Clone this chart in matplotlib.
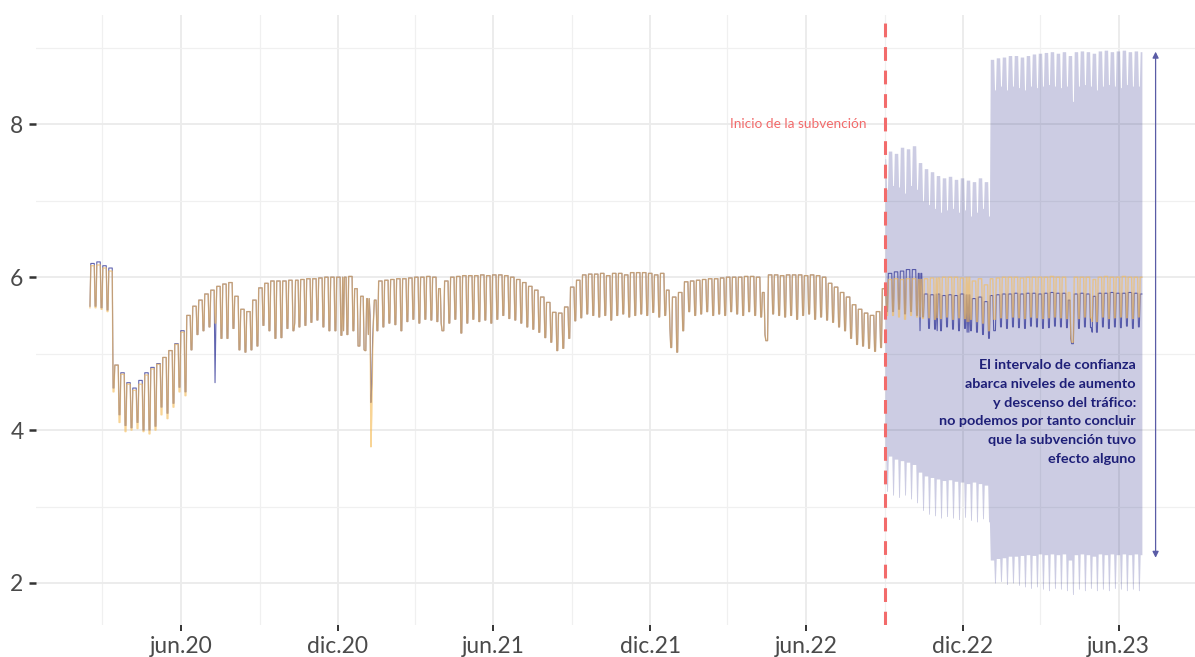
import numpy as np
import pandas as pd
import matplotlib
matplotlib.use("Agg")
import matplotlib.pyplot as plt
from matplotlib.ticker import FixedLocator, NullFormatter

plt.rcParams["font.family"] = ["Lato", "DejaVu Sans"]

# ---- daily traffic index, stored as weekly levels (Mon-Fri level, Sat/Sun level) ----
first_day = pd.Timestamp("2020-02-16")
first_monday = pd.Timestamp("2020-02-17")
last_day = pd.Timestamp("2023-06-28")
subsidy_start = pd.Timestamp("2022-09-01")

obs_weekday = [
    6.18, 6.20, 6.15, 6.12,
    4.85, 4.75, 4.62, 4.55, 4.65, 4.75, 4.82, 4.87, 4.95, 5.04, 5.13, 5.30,
    5.50, 5.62, 5.70, 5.78, 5.83, 5.88, 5.91, 5.93,
    5.75, 5.58, 5.55, 5.70,
    5.86, 5.92, 5.95, 5.95, 5.95, 5.96, 5.96, 5.97, 5.98, 5.98, 5.99, 6.00, 6.00, 6.00,
    6.00, 6.01, 5.85, 5.75, 5.72, 5.70,
    5.95, 5.96, 5.97, 5.98, 5.98, 5.99, 6.00, 6.00, 6.01, 6.00, 5.85, 5.95, 6.00, 6.01,
    6.02, 6.02, 6.02, 6.03, 6.02, 6.03,
    6.03, 6.02, 6.00, 5.97, 5.93, 5.88, 5.83, 5.74, 5.67, 5.54, 5.53, 5.61, 5.87, 5.96,
    6.03, 6.04, 6.04, 6.05, 6.02, 6.05, 6.05, 6.03, 6.06, 6.06, 6.06, 6.05, 6.03, 6.05,
    5.83, 5.74, 5.80,
    5.94, 5.95, 5.96, 5.97, 5.98, 5.98, 5.99, 6.00, 6.00, 6.00, 6.01, 6.01,
    6.00, 5.80,
    6.03, 6.03, 6.02, 6.03, 6.03, 6.03, 6.02, 6.03, 6.02, 6.00,
    5.92, 5.87, 5.80, 5.74, 5.64, 5.58, 5.53, 5.50, 5.55,
    5.85, 6.05, 6.07, 6.08, 6.10, 6.10, 6.05,
    5.78, 5.77, 5.78, 5.76, 5.77, 5.76, 5.78, 5.77, 5.72, 5.74, 5.68,
    5.76, 5.77, 5.78, 5.78, 5.79, 5.78, 5.79, 5.79, 5.78, 5.79, 5.80, 5.79, 5.79,
    5.70, 5.78, 5.79, 5.78, 5.75, 5.79, 5.79, 5.80, 5.79, 5.79, 5.80, 5.79, 5.78,
]
obs_weekend = [
    5.62, 5.60, 5.57, 4.55,
    4.20, 4.06, 4.03, 4.10, 4.00, 4.00, 4.05, 4.30, 4.22, 4.35, 4.56, 4.50,
    5.05, 5.25, 5.30, 5.35, 5.40, 5.20, 5.20, 5.33,
    5.05, 5.02, 5.05, 5.10,
    5.37, 5.30, 5.20, 5.21, 5.33, 5.30, 5.35, 5.37, 5.41, 5.44, 5.35, 5.30, 5.30, 5.24,
    5.25, 5.30, 5.10, 5.04, 5.50, 5.30,
    5.35, 5.40, 5.38, 5.30, 5.42, 5.45, 5.40, 5.45, 5.44, 5.42, 5.30, 5.40, 5.45, 5.27,
    5.40, 5.45, 5.42, 5.44, 5.40, 5.45,
    5.50, 5.46, 5.44, 5.40, 5.35, 5.32, 5.28, 5.21, 5.15, 5.04, 5.07, 5.20, 5.43, 5.47,
    5.52, 5.50, 5.48, 5.50, 5.44, 5.50, 5.52, 5.48, 5.50, 5.52, 5.50, 5.54, 5.48, 5.50,
    5.08, 5.02, 5.30,
    5.55, 5.50, 5.52, 5.55, 5.50, 5.52, 5.50, 5.55, 5.52, 5.50, 5.55, 5.50,
    5.48, 5.17,
    5.52, 5.50, 5.48, 5.50, 5.45, 5.50, 5.52, 5.45, 5.48, 5.44,
    5.41, 5.35, 5.30, 5.20, 5.12, 5.10, 5.07, 5.03, 5.08,
    5.55, 5.55, 5.58, 5.52, 5.55, 5.50, 5.48,
    5.33, 5.32, 5.30, 5.35, 5.32, 5.30, 5.33, 5.30, 5.28, 5.25, 5.20,
    5.30, 5.35, 5.33, 5.35, 5.34, 5.33, 5.36, 5.35, 5.33, 5.34, 5.36, 5.35, 5.34,
    5.13, 5.33, 5.35, 5.34, 5.28, 5.35, 5.33, 5.35, 5.34, 5.36, 5.33, 5.35, 5.34,
]
fit_weekday = [
    6.15, 6.16, 6.12, 6.08,
    4.85, 4.73, 4.60, 4.52, 4.60, 4.72, 4.80, 4.86, 4.95, 5.04, 5.12, 5.28,
    5.50, 5.62, 5.70, 5.78, 5.83, 5.88, 5.91, 5.93,
    5.75, 5.58, 5.55, 5.70,
    5.86, 5.92, 5.95, 5.95, 5.95, 5.96, 5.96, 5.97, 5.98, 5.98, 5.99, 6.00, 6.00, 6.00,
    6.00, 6.01, 5.85, 5.75, 5.72, 5.70,
    5.95, 5.96, 5.97, 5.98, 5.98, 5.99, 6.00, 6.00, 6.01, 6.00, 5.85, 5.95, 6.00, 6.01,
    6.02, 6.02, 6.02, 6.03, 6.02, 6.03,
    6.03, 6.02, 6.00, 5.97, 5.93, 5.88, 5.83, 5.74, 5.67, 5.54, 5.53, 5.61, 5.87, 5.96,
    6.03, 6.04, 6.04, 6.05, 6.02, 6.05, 6.05, 6.03, 6.06, 6.06, 6.06, 6.05, 6.03, 6.05,
    5.83, 5.74, 5.80,
    5.94, 5.95, 5.96, 5.97, 5.98, 5.98, 5.99, 6.00, 6.00, 6.00, 6.01, 6.01,
    6.00, 5.80,
    6.03, 6.03, 6.02, 6.03, 6.03, 6.03, 6.02, 6.03, 6.02, 6.00,
    5.92, 5.87, 5.80, 5.74, 5.64, 5.58, 5.53, 5.50, 5.55,
    5.85, 5.97, 5.98, 5.97, 5.98, 5.98, 5.97,
    5.98, 5.99, 5.99, 6.00, 6.00, 6.00, 5.99, 6.00, 5.95, 5.98, 5.90,
    5.98, 5.99, 6.00, 6.00, 6.00, 5.99, 6.00, 6.00, 6.00, 6.00, 6.01, 6.00, 6.00,
    5.80, 6.00, 6.00, 6.00, 5.97, 6.00, 6.01, 6.00, 6.00, 6.01, 6.00, 6.00, 6.00,
]
fit_weekend = [
    5.60, 5.58, 5.55, 4.50,
    4.10, 3.98, 4.00, 4.02, 3.98, 3.95, 4.00, 4.20, 4.15, 4.30, 4.50, 4.45,
    5.05, 5.25, 5.30, 5.35, 5.40, 5.20, 5.20, 5.33,
    5.05, 5.02, 5.05, 5.10,
    5.37, 5.30, 5.20, 5.21, 5.33, 5.30, 5.35, 5.37, 5.41, 5.44, 5.35, 5.30, 5.30, 5.24,
    5.25, 5.30, 5.10, 5.04, 5.50, 5.30,
    5.35, 5.40, 5.38, 5.30, 5.42, 5.45, 5.40, 5.45, 5.44, 5.42, 5.30, 5.40, 5.45, 5.27,
    5.40, 5.45, 5.42, 5.44, 5.40, 5.45,
    5.50, 5.46, 5.44, 5.40, 5.35, 5.32, 5.28, 5.21, 5.15, 5.04, 5.07, 5.20, 5.43, 5.47,
    5.52, 5.50, 5.48, 5.50, 5.44, 5.50, 5.52, 5.48, 5.50, 5.52, 5.50, 5.54, 5.48, 5.50,
    5.08, 5.02, 5.30,
    5.55, 5.50, 5.52, 5.55, 5.50, 5.52, 5.50, 5.55, 5.52, 5.50, 5.55, 5.50,
    5.48, 5.17,
    5.52, 5.50, 5.48, 5.50, 5.45, 5.50, 5.52, 5.45, 5.48, 5.44,
    5.41, 5.35, 5.30, 5.20, 5.12, 5.10, 5.07, 5.03, 5.08,
    5.50, 5.50, 5.48, 5.45, 5.50, 5.48, 5.46,
    5.47, 5.45, 5.46, 5.48, 5.45, 5.47, 5.46, 5.45, 5.42, 5.40, 5.30,
    5.45, 5.47, 5.46, 5.48, 5.47, 5.46, 5.48, 5.47, 5.46, 5.47, 5.48, 5.47, 5.46,
    5.15, 5.46, 5.48, 5.47, 5.42, 5.48, 5.46, 5.47, 5.48, 5.47, 5.46, 5.48, 5.47,
]

# confidence band after the subsidy (weeks from 2022-08-29)
band_first_week = 132
upper_weekday = [
    7.55, 7.65, 7.62, 7.70, 7.68, 7.72, 7.50, 7.42, 7.38, 7.33, 7.30, 7.32, 7.28,
    7.30, 7.27, 7.25, 7.30, 7.25,
    8.85, 8.87, 8.88, 8.90, 8.90, 8.88, 8.90, 8.92, 8.93, 8.94, 8.95, 8.93, 8.95,
    8.90, 8.95, 8.96, 8.95, 8.93, 8.96, 8.97, 8.95, 8.96, 8.97, 8.95, 8.96, 8.95,
]
upper_weekend = [
    7.15, 7.20, 7.18, 7.10, 7.20, 7.15, 7.00, 6.95, 6.90, 6.85, 6.88, 6.90, 6.85,
    6.88, 6.80, 6.85, 6.90, 6.80,
    8.45, 8.50, 8.45, 8.50, 8.48, 8.45, 8.50, 8.48, 8.50, 8.52, 8.50, 8.48, 8.50,
    8.30, 8.50, 8.52, 8.50, 8.45, 8.50, 8.52, 8.50, 8.48, 8.52, 8.50, 8.50, 8.50,
]
lower_weekday = [
    3.62, 3.66, 3.62, 3.60, 3.58, 3.55, 3.45, 3.40, 3.38, 3.36, 3.34, 3.35, 3.33,
    3.32, 3.30, 3.32, 3.30, 3.28,
    2.30, 2.32, 2.33, 2.35, 2.35, 2.36, 2.37, 2.36, 2.38, 2.37, 2.38, 2.37, 2.38,
    2.30, 2.37, 2.38, 2.37, 2.35, 2.38, 2.37, 2.38, 2.37, 2.38, 2.37, 2.38, 2.37,
]
lower_weekend = [
    3.20, 3.15, 3.12, 3.15, 3.10, 3.05, 2.95, 2.90, 2.88, 2.85, 2.87, 2.85, 2.83,
    2.86, 2.82, 2.80, 2.84, 2.80,
    2.00, 2.02, 1.98, 2.00, 1.97, 1.95, 1.93, 1.95, 1.92, 1.90, 1.93, 1.92, 1.90,
    1.85, 1.92, 1.90, 1.93, 1.90, 1.92, 1.90, 1.93, 1.92, 1.90, 1.92, 1.90, 1.92,
]

# single days that break the weekly pattern: (date, observed, fitted)
special_days = [
    ("2020-07-11", 4.62, 5.40),
    ("2020-10-12", 5.40, 5.40),
    ("2020-12-08", 5.30, 5.30),
    ("2020-12-25", 5.10, 5.10),
    ("2021-01-01", 5.05, 5.05),
    ("2021-01-06", 5.25, 5.25),
    ("2021-01-08", 5.50, 5.40),
    ("2021-01-09", 4.36, 3.78),
    ("2021-01-10", 4.60, 4.20),
    ("2021-01-11", 5.20, 5.00),
    ("2021-01-12", 5.45, 5.45),
    ("2021-04-01", 5.40, 5.40),
    ("2021-04-02", 5.30, 5.30),
    ("2021-12-24", 5.35, 5.35),
    ("2022-04-14", 5.25, 5.25),
    ("2022-04-15", 5.17, 5.17),
    ("2022-10-12", 5.30, 5.48),
    ("2022-11-01", 5.30, 5.47),
    ("2022-12-06", 5.28, 5.42),
    ("2022-12-08", 5.28, 5.42),
    ("2023-01-06", 5.30, 5.45),
    ("2023-04-06", 5.20, 5.25),
    ("2023-04-07", 5.13, 5.15),
    ("2023-05-01", 5.28, 5.42),
]

x_major = ["2020-06-01", "2020-12-01", "2021-06-01", "2021-12-01",
           "2022-06-01", "2022-12-01", "2023-06-01"]
x_major_labels = ["jun.20", "dic.20", "jun.21", "dic.21", "jun.22", "dic.22", "jun.23"]
x_minor = ["2020-03-01", "2020-09-01", "2021-03-01", "2021-09-01",
           "2022-03-01", "2022-09-01", "2023-03-01"]
y_major = [2, 4, 6, 8]
y_minor = [3, 5, 7, 9]

# ---- build daily series ----
days = pd.date_range(first_day, last_day, freq="D")
week = np.clip((days - first_monday).days // 7, 0, None)
weekend = np.asarray(days.dayofweek >= 5)


def daily(wd, we, idx):
    wd = np.asarray(wd)
    we = np.asarray(we)
    w = week[idx] - week[idx][0]
    return np.where(weekend[idx], we[w], wd[w])


all_idx = np.arange(len(days))
observed = daily(obs_weekday, obs_weekend, all_idx)
fitted = daily(fit_weekday, fit_weekend, all_idx)
pos = {d: i for i, d in enumerate(days)}
for d, o, f in special_days:
    i = pos[pd.Timestamp(d)]
    observed[i] = o
    fitted[i] = f

band_idx = np.where(days >= subsidy_start)[0]
band_week = week[band_idx] - band_first_week
band_we = weekend[band_idx]
upper = np.where(band_we, np.asarray(upper_weekend)[band_week], np.asarray(upper_weekday)[band_week])
lower = np.where(band_we, np.asarray(lower_weekend)[band_week], np.asarray(lower_weekday)[band_week])

# ---- figure ----
fig = plt.figure(figsize=(11.95, 6.57), dpi=100)
ax = fig.add_axes([36 / 1195, 32 / 657, 1 - 36 / 1195, 610 / 657])

ax.fill_between(days[band_idx], lower, upper, color="#2b2d8a", alpha=0.24,
                linewidth=0, zorder=1)
ax.plot(days, observed, color="#3a3e9c", lw=0.8, alpha=0.8, zorder=3)
ax.plot(days, fitted, color="#f5bd5c", lw=1.0, alpha=0.65, zorder=4)

ax.axvline(subsidy_start, color="#f26b6b", lw=2.2, ls=(0, (4.5, 3.2)), zorder=5)
ax.text(pd.Timestamp("2022-08-10"), 8.0, "Inicio de la subvención", color="#f26b6b",
        fontsize=9.8, ha="right", va="center")

ax.annotate("", xy=(pd.Timestamp("2023-07-14"), 2.33), xytext=(pd.Timestamp("2023-07-14"), 8.95),
            arrowprops=dict(arrowstyle="<|-|>", color="#5a5ca6", lw=0.9,
                            mutation_scale=9, shrinkA=0, shrinkB=0))
ax.text(pd.Timestamp("2023-06-21"), 4.93,
        "El intervalo de confianza\nabarca niveles de aumento\ny descenso del tráfico:\n"
        "no podemos por tanto concluir\nque la subvención tuvo\nefecto alguno",
        color="#1e1f78", fontsize=10.4, fontweight="bold", ha="right", va="top",
        multialignment="right", linespacing=1.68, zorder=6)

ax.set_xlim(pd.Timestamp("2019-12-15"), pd.Timestamp("2023-08-29"))
ax.set_ylim(1.45, 9.43)

ax.xaxis.set_major_locator(FixedLocator(matplotlib.dates.date2num(pd.to_datetime(x_major))))
ax.xaxis.set_minor_locator(FixedLocator(matplotlib.dates.date2num(pd.to_datetime(x_minor))))
ax.set_xticklabels(x_major_labels)
ax.xaxis.set_minor_formatter(NullFormatter())
ax.yaxis.set_major_locator(FixedLocator(y_major))
ax.yaxis.set_minor_locator(FixedLocator(y_minor))
ax.set_yticklabels([str(v) for v in y_major])

ax.grid(which="major", color="#ebebeb", lw=1.3, zorder=0)
ax.grid(which="minor", color="#f0f0f0", lw=0.9, zorder=0)
ax.set_axisbelow(True)
for s in ax.spines.values():
    s.set_visible(False)
ax.tick_params(axis="y", which="major", length=5, width=1.8, color="#333333",
               labelsize=16.5, labelcolor="#4a4a4a", pad=4)
ax.tick_params(axis="x", which="major", length=4, width=1.4, color="#333333",
               labelsize=16.5, labelcolor="#4a4a4a", pad=4)
ax.tick_params(which="minor", length=0)

fig.savefig("out.png", dpi=100, facecolor="white")
